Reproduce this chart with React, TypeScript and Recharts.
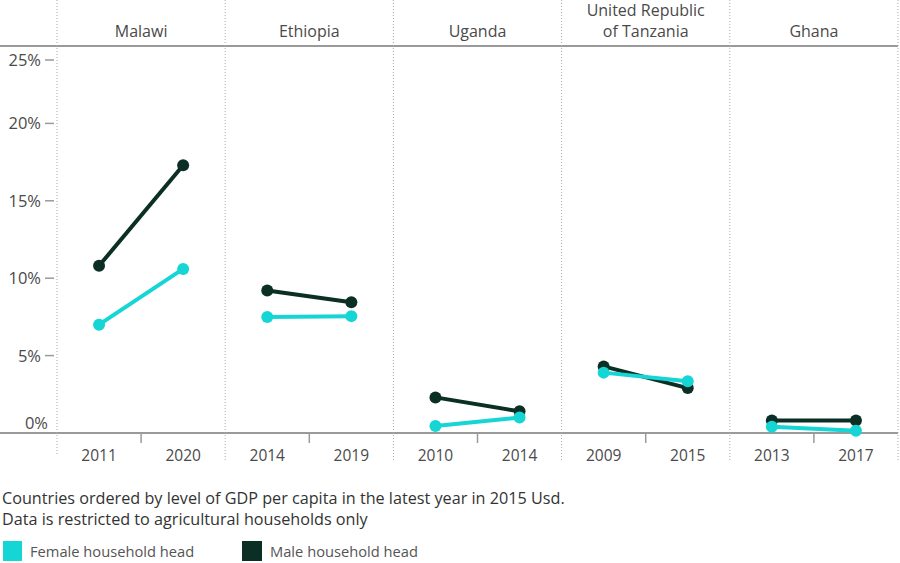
import { LineChart, Line, XAxis, YAxis, ReferenceLine } from 'recharts';

const countries = ['Malawi', 'Ethiopia', 'Uganda', 'United Republic of Tanzania', 'Ghana'];
const countryLabels = [['Malawi'], ['Ethiopia'], ['Uganda'], ['United Republic', 'of Tanzania'], ['Ghana']];
const years = [[2011, 2020], [2014, 2019], [2010, 2014], [2009, 2015], [2013, 2017]];
const female = [[7.0, 10.6], [7.5, 7.55], [0.45, 1.0], [3.9, 3.35], [0.4, 0.15]];
const male = [[10.8, 17.3], [9.2, 8.45], [2.3, 1.4], [4.3, 2.9], [0.8, 0.8]];
const yTicks = [0, 5, 10, 15, 20, 25];

const FEMALE = '#16d5d5';
const MALE = '#0b2f24';
const GRID = '#9a9a9a';
const TEXT = '#4a4a4a';
const FONT = '"Open Sans", "Noto Sans", sans-serif';

// one row per year slot, each country gets its own keys so segments don't join
const data: any[] = [];
countries.forEach((c, ci) => {
  years[ci].forEach((yr, k) => {
    const row: any = { x: ci * 2 + k + 0.5, year: yr, country: c };
    row['f' + ci] = female[ci][k];
    row['m' + ci] = male[ci][k];
    data.push(row);
  });
});

const yearTicks = data.map((d) => d.x);
const panelEdges = countries.map((_, i) => i * 2).concat([countries.length * 2]);
const innerEdges = countries.map((_, i) => i * 2 + 1);

function YTick(props: any) {
  const { x, y, payload } = props;
  const v = payload.value;
  const shift = v === 0 ? -10 : v === 25 ? 14 : 0;
  const ty = y + shift;
  return (
    <g>
      {v !== 0 && <line x1={x - 10} x2={x - 1} y1={ty} y2={ty} stroke={GRID} strokeWidth={1.5} />}
      <text x={v === 0 ? x - 7 : x - 14} y={ty + 6} textAnchor="end" fontSize={16.5} fill={TEXT} fontFamily={FONT}>
        {v + '%'}
      </text>
    </g>
  );
}

function YearTick(props: any) {
  const { x, y, index } = props;
  return (
    <text x={x} y={y + 26} textAnchor="middle" fontSize={15.5} fill={TEXT} fontFamily={FONT}>
      {data[index] ? data[index].year : ''}
    </text>
  );
}

function CountryTick(props: any) {
  const { x, y, index } = props;
  const lines = countryLabels[index] || [];
  return (
    <text textAnchor="middle" fontSize={16} fill={TEXT} fontFamily={FONT}>
      {lines.map((l, i) => (
        <tspan key={i} x={x} y={y - 7 - (lines.length - 1 - i) * 21}>{l}</tspan>
      ))}
    </text>
  );
}

function PanelLine(props: any) {
  const { x1, y1, y2 } = props;
  const top = Math.min(y1, y2);
  const bot = Math.max(y1, y2);
  return <line x1={x1} x2={x1} y1={top - 46} y2={bot + (x1 < 60 ? 22 : 29)} stroke="#aaa" strokeWidth={1} strokeDasharray="1 2" />;
}

function MinorTick(props: any) {
  const { x1, y1, y2 } = props;
  const bot = Math.max(y1, y2);
  return <line x1={x1} x2={x1} y1={bot} y2={bot + 10} stroke={GRID} strokeWidth={1.5} />;
}

function FullRule(props: any) {
  const { y1, x1, x2 } = props;
  return <line x1={0} x2={Math.max(x1, x2)} y1={y1} y2={y1} stroke={GRID} strokeWidth={2} />;
}

export default function App() {
  return (
    <div style={{ position: 'absolute', left: 0, top: 0, width: 900, height: 563, background: '#fff', fontFamily: FONT, overflow: 'hidden' }}>
      <LineChart width={900} height={563} data={data} margin={{ top: 0, right: 2, left: 0, bottom: 100 }}>
        <XAxis
          xAxisId="b"
          dataKey="x"
          type="number"
          domain={[0, 10]}
          allowDataOverflow
          ticks={yearTicks}
          tick={<YearTick />}
          tickLine={false}
          axisLine={false}
          tickSize={0}
          height={30}
          interval={0}
        />
        <XAxis
          xAxisId="t"
          dataKey="x"
          orientation="top"
          type="number"
          domain={[0, 10]}
          allowDataOverflow
          ticks={innerEdges}
          tick={<CountryTick />}
          tickLine={false}
          axisLine={false}
          tickSize={0}
          height={46}
          interval={0}
        />
        <YAxis
          domain={[0, 25]}
          ticks={yTicks}
          tick={<YTick />}
          tickLine={false}
          axisLine={false}
          tickSize={0}
          width={57}
          interval={0}
        />
        <ReferenceLine xAxisId="b" y={0} shape={<FullRule />} />
        <ReferenceLine xAxisId="b" y={25} shape={<FullRule />} />
        {panelEdges.map((e) => (
          <ReferenceLine key={'p' + e} xAxisId="b" x={e} shape={<PanelLine />} />
        ))}
        {innerEdges.map((e) => (
          <ReferenceLine key={'i' + e} xAxisId="b" x={e} shape={<MinorTick />} />
        ))}
        {countries.map((_, ci) => (
          <Line
            key={'m' + ci}
            xAxisId="b"
            dataKey={'m' + ci}
            stroke={MALE}
            strokeWidth={4}
            dot={{ r: 6, fill: MALE, stroke: MALE, strokeWidth: 0 }}
            activeDot={false}
            isAnimationActive={false}
          />
        ))}
        {countries.map((_, ci) => (
          <Line
            key={'f' + ci}
            xAxisId="b"
            dataKey={'f' + ci}
            stroke={FEMALE}
            strokeWidth={4}
            dot={{ r: 6, fill: FEMALE, stroke: FEMALE, strokeWidth: 0 }}
            activeDot={false}
            isAnimationActive={false}
          />
        ))}
      </LineChart>
      <div style={{ position: 'absolute', left: 2, top: 488, fontSize: 16.2, lineHeight: '21px', color: '#333', whiteSpace: 'nowrap' }}>
        Countries ordered by level of GDP per capita in the latest year in 2015 Usd.
        <br />
        Data is restricted to agricultural households only
      </div>
      <div style={{ position: 'absolute', left: 3, top: 540, height: 22, display: 'flex', alignItems: 'center', fontSize: 14.7, lineHeight: '20px', color: '#555', whiteSpace: 'nowrap' }}>
        <span style={{ width: 19, height: 20, background: FEMALE, display: 'inline-block', marginRight: 8 }} />
        <span style={{ width: 212 }}>Female household head</span>
        <span style={{ width: 20, height: 20, background: MALE, display: 'inline-block', marginRight: 8 }} />
        <span>Male household head</span>
      </div>
    </div>
  );
}
